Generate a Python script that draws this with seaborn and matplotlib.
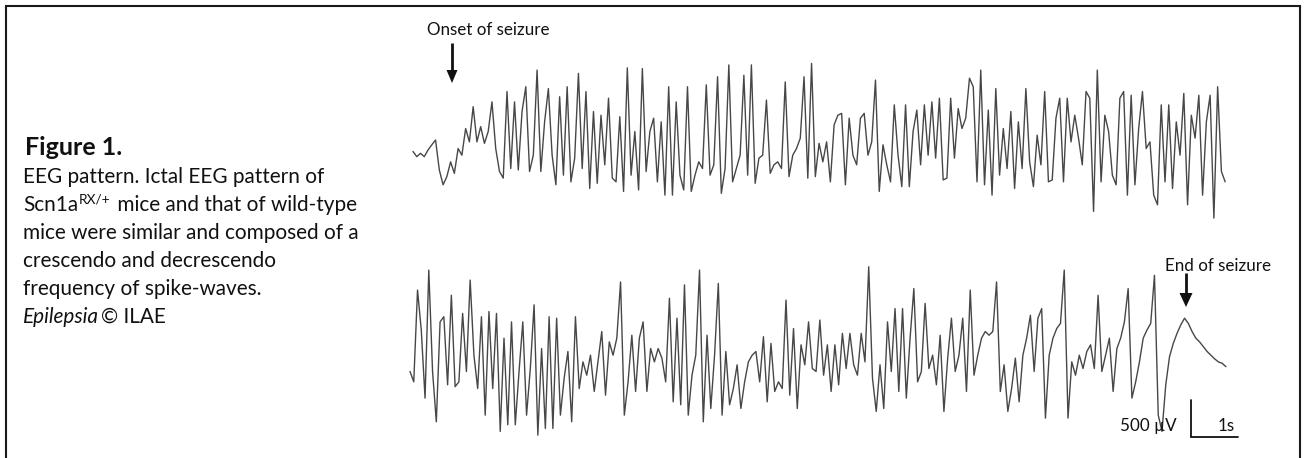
import numpy as np
import pandas as pd
import matplotlib
matplotlib.use("Agg")
import matplotlib.pyplot as plt
import seaborn as sns
from matplotlib.patches import Polygon

# ---------------- data ----------------
DT = 0.08          # seconds between samples
SCALE_UV = 500     # scale bar, microvolts
SCALE_S = 1        # scale bar, seconds

# upper trace: onset of seizure (microvolts)
TOP_UV = [
    -20, -90, -45, -90, 0, 70, 135, -270, -470, -360,
    -160, -315, 20, -70, 290, 110, 585, 110, 315, 90,
    250, 650, 20, -290, -380, 790, -250, 650, -270, 520,
    855, -290, -70, 1080, -290, 380, 830, -70, -470, 720,
    -340, 855, -430, -110, 1035, -250, 790, -520, 520, -450,
    470, -200, 700, -380, -430, 450, -560, 1110, -340, 250,
    -540, 1100, -290, 250, 430, -430, 380, -610, 855, -610,
    650, -340, -540, 855, -560, -340, -160, -250, 880, -340,
    -200, 990, -585, -250, 1150, -430, -250, -70, 1010, -340,
    1150, -450, -110, -70, 675, -315, -200, -160, -250, 920,
    -360, -70, 20, 160, 990, -380, 1170, -360, 90, -160,
    110, -430, 340, 470, 495, -470, 430, -70, -200, 430,
    495, -70, 110, 945, -560, 70, -200, -430, 610, -70,
    -495, 610, -495, 250, 540, -200, 610, -70, 650, -110,
    700, -405, -380, 700, -110, 560, 290, 430, 970, 855,
    -430, 1080, -470, 540, -610, 830, -340, 290, -250, 520,
    -520, 380, -250, 830, -160, -495, 200, -200, 790, -430,
    -405, 430, 700, -430, 700, 110, 470, 160, -200, 790,
    700, -830, 1080, -430, 470, 250, -340, -470, 700, 790,
    -610, 740, -470, 290, 790, 20, 110, -610, -740, 610,
    -430, 610, -520, 380, -70, 765, -740, 470, 160, 740,
    -610, 380, 740, -920, 855, -290, -430,
]

# lower trace: end of seizure (microvolts)
BOTTOM_UV = [
    -20, -160, 1080, 540, -380, 1350, -20, -700, 650, 720,
    -200, 1010, -225, -160, 765, -20, 1215, 200, -250, 720,
    -610, 790, -250, 765, -830, 430, -740, 650, -740, -20,
    650, -610, 20, 880, -880, 290, -790, 720, -790, 700,
    -610, -110, 250, -700, 720, -250, 110, -70, 200, -290,
    110, 520, -340, 380, 200, 430, 1190, -610, -160, 470,
    -290, 430, 650, -290, 290, 110, 290, 160, -160, 970,
    -430, 700, -470, 1150, -610, -70, 200, 1350, -700, 470,
    -520, 200, 1170, -610, 250, -470, -250, 70, -520, -160,
    110, 200, 250, -160, 450, -430, 360, -290, -160, -250,
    945, -340, 560, -520, 340, 70, 650, 20, -20, 675,
    -70, 340, -290, 340, -200, 495, 20, 495, 70, -70,
    495, 110, 1395, -110, -560, 70, -520, 650, -20, 830,
    -290, 830, -380, 430, 1100, -160, -20, 900, 20, 200,
    -200, 470, -560, 160, 700, -20, 200, 700, -290, 1080,
    -70, 200, 430, 520, 470, 520, 1190, -290, 70, -560,
    -250, 160, -430, 200, 430, 740, -20, 700, 830, -650,
    200, 430, 560, 630, 1350, -650, 110, -70, 200, 20,
    250, 340, 20, 1010, -20, 200, 430, -290, 290, 430,
    650, 1100, -380, -160, 110, 430, 540, 630, 1280, -610,
    -830, -200, 180, 360, 495, 610, 700, 630, 520, 430,
    380, 315, 250, 200, 150, 110, 90, 45,
]

ONSET_LABEL = "Onset of seizure"
END_LABEL = "End of seizure"
SCALE_UV_LABEL = "500 µV"
SCALE_S_LABEL = "1s"
FIG_TITLE = "Figure 1."
CAPTION = [
    "EEG pattern. Ictal EEG pattern of",
    None,  # Scn1a line with superscript, built below
    "mice were similar and composed of a",
    "crescendo and decrescendo",
    "frequency of spike-waves.",
    None,  # Epilepsia line
]

# ---------------- figure ----------------
sns.set_theme(style="white")
plt.rcParams["font.family"] = ["Lato", "DejaVu Sans"]

W, H = 1307, 458
fig = plt.figure(figsize=(W / 100, H / 100), dpi=100)
fig.patch.set_facecolor("white")

PX_PER_S = 47.0
PX_PER_UV = 37.0 / 500.0
TRACE_COLOR = "#474747"


def trace_axes(x0, y0, left, right, top, bottom):
    ax = fig.add_axes([left / W, 1 - bottom / H, (right - left) / W, (bottom - top) / H])
    ax.set_xlim((left - x0) / PX_PER_S, (right - x0) / PX_PER_S)
    ax.set_ylim((y0 - bottom) / PX_PER_UV, (y0 - top) / PX_PER_UV)
    ax.axis("off")
    return ax


ax_top = trace_axes(413, 150, 400, 1240, 40, 232)
ax_bot = trace_axes(410, 370, 400, 1245, 250, 452)

df_top = pd.DataFrame({"t": np.arange(len(TOP_UV)) * DT, "uv": TOP_UV})
df_bot = pd.DataFrame({"t": np.arange(len(BOTTOM_UV)) * DT, "uv": BOTTOM_UV})
sns.lineplot(data=df_top, x="t", y="uv", ax=ax_top, color=TRACE_COLOR,
             linewidth=1.0, estimator=None, sort=False)
sns.lineplot(data=df_bot, x="t", y="uv", ax=ax_bot, color=TRACE_COLOR,
             linewidth=1.0, estimator=None, sort=False)

# scale bar in data units of the lower trace
sb_t = (1191 - 410) / PX_PER_S
sb_v = (370 - 437) / PX_PER_UV
ax_bot.plot([sb_t, sb_t, sb_t + SCALE_S], [sb_v + SCALE_UV, sb_v, sb_v],
            color="#111111", lw=1.3, solid_joinstyle="miter")

# ---------------- overlay in pixel coordinates ----------------
ov = fig.add_axes([0, 0, 1, 1])
ov.set_xlim(0, W)
ov.set_ylim(H, 0)
ov.axis("off")
ov.patch.set_alpha(0)

# frame
ov.plot([6, 6, 1300, 1300], [462, 6, 6, 462], color="#1a1a1a", lw=1.5,
        solid_joinstyle="miter")

renderer = fig.canvas.get_renderer()


def fit_size(s, target_w, **kw):
    t = ov.text(0, 0, s, fontsize=10, **kw)
    w = t.get_window_extent(renderer=renderer).width
    t.remove()
    return 10 * target_w / w


def down_arrow(x, y_top, y_tip, head_len, head_w):
    ov.plot([x, x], [y_top, y_tip - head_len + 1], color="#111111", lw=2.0,
            solid_capstyle="butt")
    ov.add_patch(Polygon([[x - head_w / 2, y_tip - head_len],
                          [x + head_w / 2, y_tip - head_len],
                          [x, y_tip]], closed=True, color="#111111", lw=0))


lab_fs = fit_size(ONSET_LABEL, 123)
ov.text(427, 35, ONSET_LABEL, fontsize=lab_fs, color="#111111", va="baseline")
down_arrow(452, 43, 83, 13, 11)

ov.text(1165, 271, END_LABEL, fontsize=lab_fs, color="#111111", va="baseline")
down_arrow(1186, 273, 307, 14, 13)

ov.text(1177, 431, SCALE_UV_LABEL, fontsize=lab_fs, color="#111111",
        va="baseline", ha="right")
ov.text(1218, 431, SCALE_S_LABEL, fontsize=lab_fs, color="#111111", va="baseline")

# caption block
title_fs = fit_size(FIG_TITLE, 97, fontweight="bold")
baselines = [155 + 28 * k for k in range(7)]
ov.text(25, baselines[0], FIG_TITLE, fontsize=title_fs, fontweight="bold",
        color="#111111", va="baseline")

cap_fs = fit_size(CAPTION[2], 336)
for s, yb in zip(CAPTION, baselines[1:]):
    if s is not None:
        ov.text(23, yb, s, fontsize=cap_fs, color="#111111", va="baseline")

# Scn1a^{RX/+} line
yb2 = baselines[2]
t1 = ov.text(23, yb2, "Scn1a", fontsize=cap_fs, color="#111111", va="baseline")
x1 = t1.get_window_extent(renderer=renderer).x1
t2 = fig.text((x1 + 1) / W, 1 - (yb2 - 8) / H, "RX/+", fontsize=cap_fs * 0.66,
              color="#111111", va="baseline")
x2 = t2.get_window_extent(renderer=renderer).x1
ov.text(x2 + 1, yb2, " mice and that of wild-type", fontsize=cap_fs,
        color="#111111", va="baseline")

# Epilepsia (c) ILAE line
yb6 = baselines[6]
t3 = ov.text(23, yb6, "Epilepsia", fontsize=cap_fs, fontstyle="italic",
             color="#111111", va="baseline")
x3 = t3.get_window_extent(renderer=renderer).x1
ov.text(x3 + 2, yb6, "© ILAE", fontsize=cap_fs, color="#111111", va="baseline")

fig.savefig("out.png", dpi=100, facecolor="white")
